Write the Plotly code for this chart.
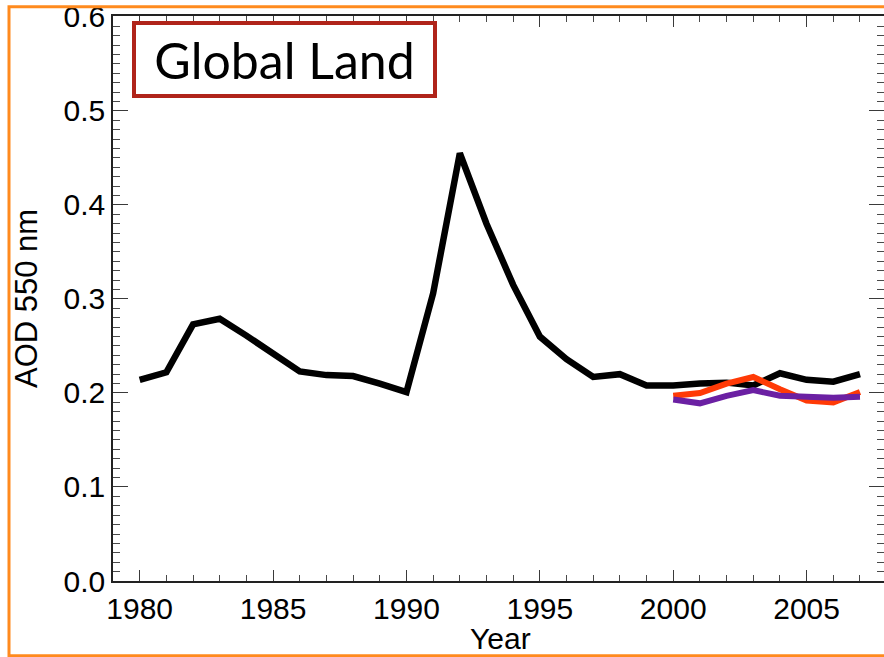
import plotly.graph_objects as go

years_all = list(range(1980, 2008))
aod_black = [0.214, 0.222, 0.273, 0.279, 0.261, 0.241, 0.223, 0.219, 0.218, 0.210,
             0.201, 0.306, 0.455, 0.380, 0.315, 0.260, 0.236, 0.217, 0.220, 0.208,
             0.208, 0.210, 0.211, 0.208, 0.221, 0.214, 0.212, 0.220]

years_sat = list(range(2000, 2008))
aod_orange = [0.197, 0.200, 0.210, 0.217, 0.204, 0.192, 0.190, 0.201]
aod_purple = [0.193, 0.189, 0.197, 0.203, 0.197, 0.196, 0.195, 0.196]

x_title = "Year"
y_title = "AOD 550 nm"
panel_title = "Global Land"

W, H = 884, 657
ml, mr, mt, mb = 113, 0, 16, 76

fig = go.Figure()
fig.add_trace(go.Scatter(x=years_all, y=aod_black, mode="lines",
                         line=dict(color="black", width=6.5)))
fig.add_trace(go.Scatter(x=years_sat, y=aod_orange, mode="lines",
                         line=dict(color="#FF3A06", width=6)))
fig.add_trace(go.Scatter(x=years_sat, y=aod_purple, mode="lines",
                         line=dict(color="#6B20A3", width=6)))

pw = W - ml - mr
ph = H - mt - mb

def px_x(p):
    return (p - ml) / pw

def px_y(p):
    return (H - mb - p) / ph

tickfont = dict(family="Liberation Sans, Arial, sans-serif", size=30, color="black")
titlefont = dict(family="Liberation Sans, Arial, sans-serif", size=31, color="black")

fig.update_layout(
    width=W, height=H,
    margin=dict(l=ml, r=mr, t=mt, b=mb, autoexpand=False),
    paper_bgcolor="white", plot_bgcolor="white",
    showlegend=False,
    xaxis=dict(range=[1979, 2007.9], tickmode="linear", tick0=1980, dtick=5, ticks="inside",
               ticklen=11, tickwidth=1.4, tickcolor="#3a3a3a",
               minor=dict(tickmode="linear", dtick=1, tick0=1980, ticks="inside", ticklen=6,
                          tickwidth=1.2, tickcolor="#4a4a4a", showgrid=False),
               showline=True, linecolor="#222", linewidth=1.5, mirror="allticks",
               showgrid=False, zeroline=False, tickfont=tickfont, automargin=False),
    yaxis=dict(range=[0, 0.601], tickmode="linear", tick0=0, dtick=0.1, tickformat=".1f", ticks="inside",
               ticklen=15, tickwidth=1.4, tickcolor="#3a3a3a",
               minor=dict(tickmode="linear", dtick=0.01, tick0=0, ticks="inside", ticklen=7,
                          tickwidth=1.2, tickcolor="#4a4a4a", showgrid=False),
               showline=True, linecolor="#222", linewidth=1.5, mirror="allticks",
               showgrid=False, zeroline=False, tickfont=tickfont, automargin=False),
)

# axis titles
fig.add_annotation(xref="paper", yref="paper", x=px_x(500), y=px_y(638),
                   xanchor="center", yanchor="middle", showarrow=False,
                   text=x_title, font=dict(family="Liberation Sans, Arial, sans-serif", size=30, color="black"))
fig.add_annotation(xref="paper", yref="paper", x=px_x(26), y=px_y(299),
                   xanchor="center", yanchor="middle", showarrow=False, textangle=-90,
                   text=y_title, font=titlefont)

# orange outer frame
fig.add_shape(type="rect", xref="paper", yref="paper",
              x0=px_x(9), x1=1.5, y0=px_y(655.7), y1=px_y(6.7),
              line=dict(color="#FF8A1E", width=3), fillcolor="rgba(0,0,0,0)", layer="above")

# Title box
fig.add_annotation(xref="paper", yref="paper", x=px_x(132), y=px_y(20.7),
                   xanchor="left", yanchor="top", showarrow=False,
                   text=panel_title, font=dict(family="Lato, sans-serif", size=50, color="black"),
                   bgcolor="white", bordercolor="#B0241A", borderwidth=4, borderpad=0,
                   width=297, height=69, align="center", valign="middle")

fig.write_html("out.html")
